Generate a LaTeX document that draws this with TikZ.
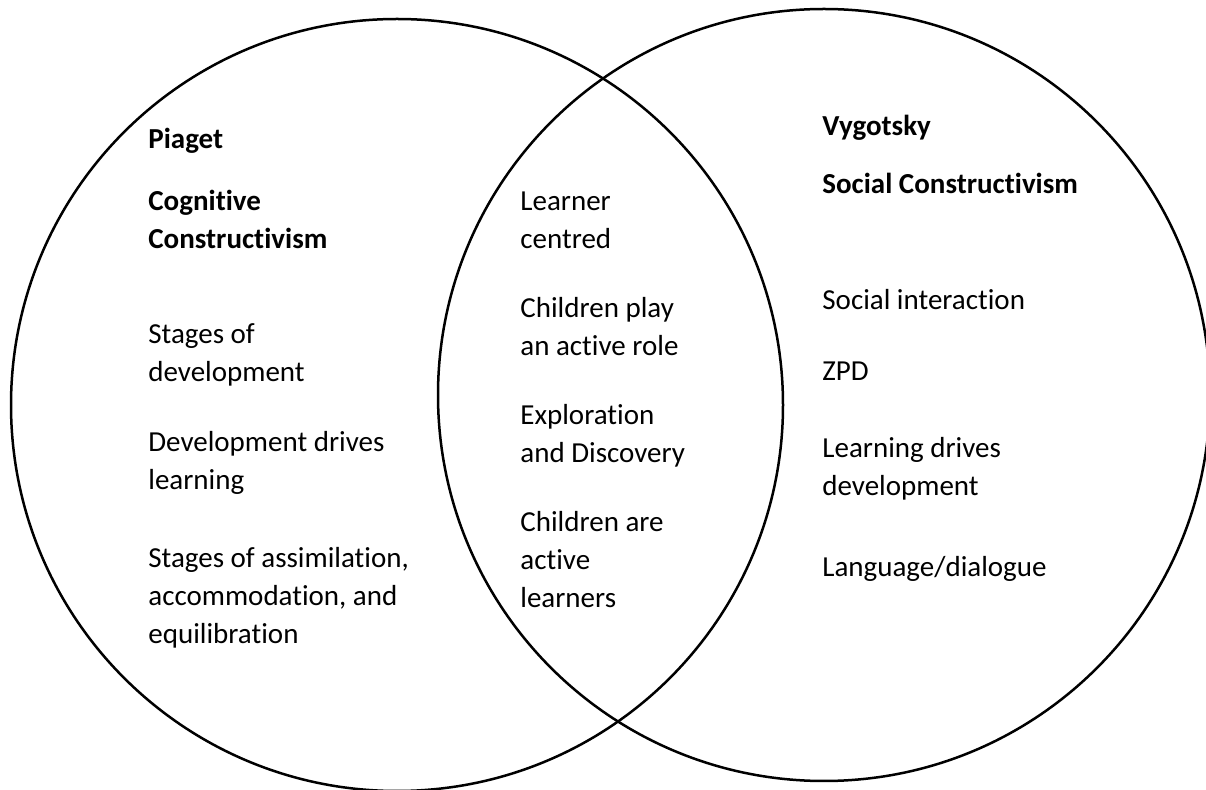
\documentclass[tikz,border=0pt]{standalone}
\usepackage{fontspec}
\setmainfont{Carlito}[Ligatures=NoCommon]
\begin{document}
\begin{tikzpicture}[x=0.5pt,y=-0.5pt,
  ring/.style={draw=black,line width=1.25pt},
  txt/.style={anchor=base west,inner sep=0pt,font=\fontsize{14.5pt}{19pt}\selectfont},
  head/.style={txt,font=\fontsize{14.5pt}{19pt}\selectfont\bfseries}]
\useasboundingbox (0,0) rectangle (1206,790);
\draw[ring] (397,405) circle [radius=193pt];
\draw[ring] (824,395) circle [radius=193pt];
% Piaget
\node[head] (pa) at (148,149) {Piaget};
\node[head] (pb1) at (148,211) {Cognitive};
\node[head] (pb2) at (148,249) {Constructivism};
\node[txt] (pc1) at (148,344) {Stages of};
\node[txt] (pc2) at (148,382) {development};
\node[txt] (pd1) at (148,452) {Development drives};
\node[txt] (pd2) at (148,490) {learning};
\node[txt] (pe1) at (148,568) {Stages of assimilation,};
\node[txt] (pe2) at (148,606) {accommodation, and};
\node[txt] (pe3) at (148,644) {equilibration};
% Middle
\node[txt] (ma1) at (520,211) {Learner};
\node[txt] (ma2) at (520,249) {centred};
\node[txt] (mb1) at (520,318) {Children play};
\node[txt] (mb2) at (520,356) {an active role};
\node[txt] (mc1) at (520,425) {Exploration};
\node[txt] (mc2) at (520,463) {and Discovery};
\node[txt] (md1) at (520,532) {Children are};
\node[txt] (md2) at (520,570) {active};
\node[txt] (md3) at (520,608) {learners};
% Vygotsky
\node[head] (va) at (822,136) {Vygotsky};
\node[head] (vb) at (822,194) {Social Constructivism};
\node[txt] (vc) at (822,310) {Social interaction};
\node[txt] (vd) at (822,381) {ZPD};
\node[txt] (ve1) at (822,458) {Learning drives};
\node[txt] (ve2) at (822,496) {development};
\node[txt] (vf) at (822,577) {Language/dialogue};
\end{tikzpicture}
\end{document}
